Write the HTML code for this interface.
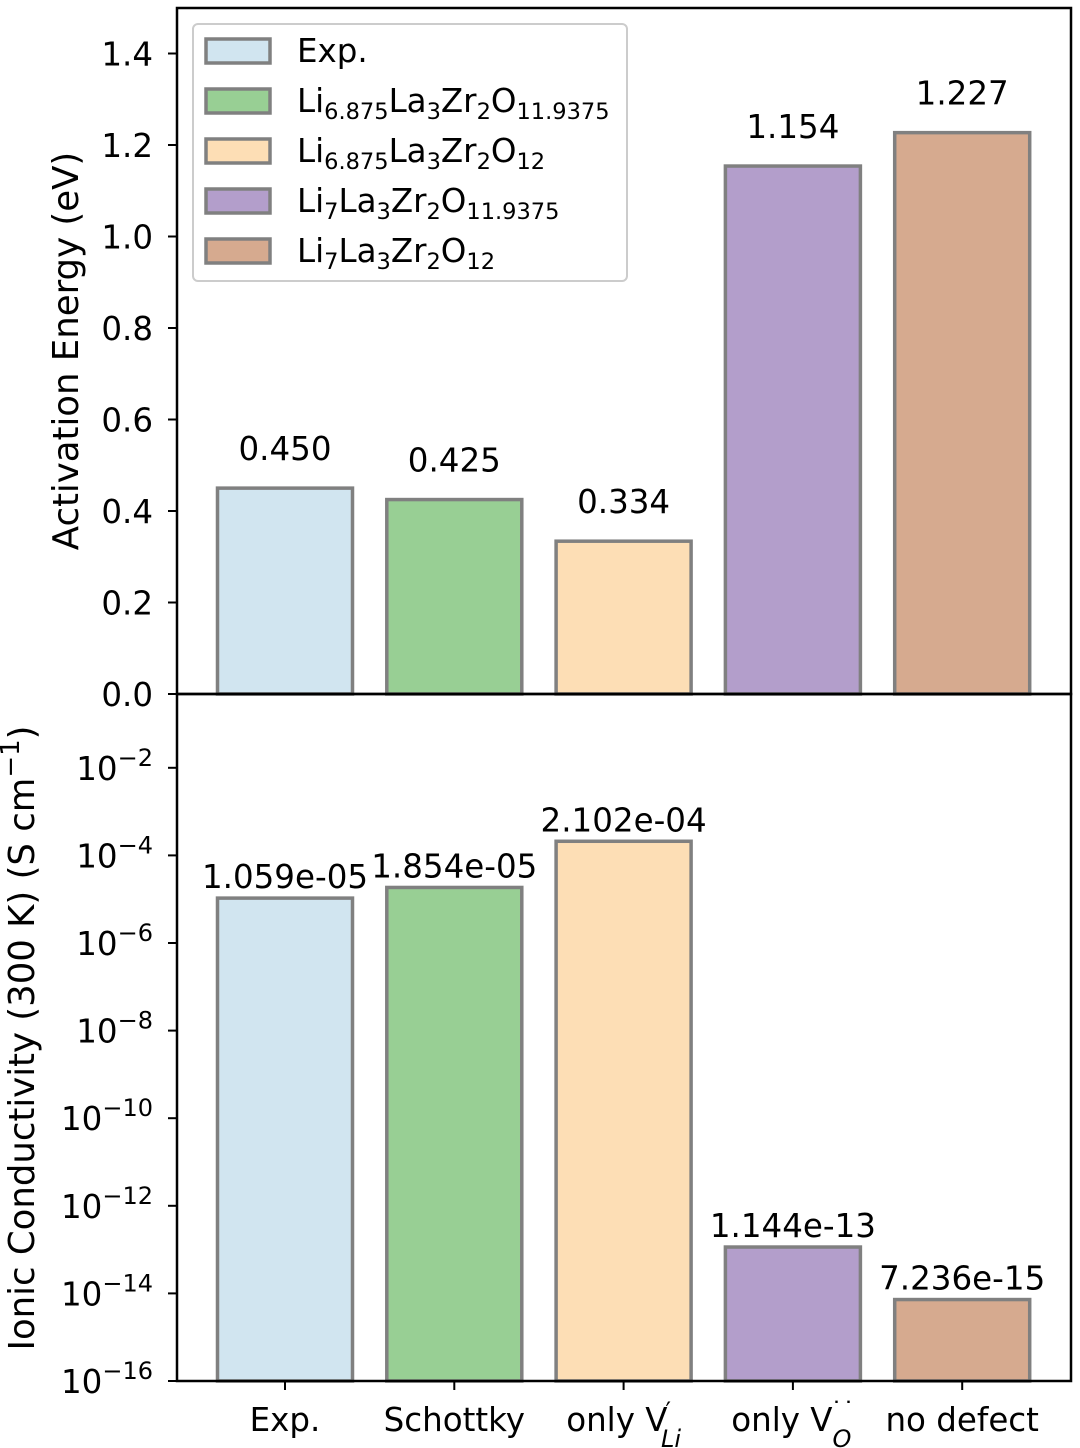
<!DOCTYPE html>
<html><head><meta charset="utf-8"><style>
body{margin:0;background:#fff}
svg{display:block;font-family:"DejaVu Sans","Liberation Sans",sans-serif}
</style></head><body>
<svg id="chart" width="1080" height="1448" viewBox="0 0 1080 1448" xmlns="http://www.w3.org/2000/svg"></svg>
<script>
const categories = ["Exp.", "Schottky", "only V'Li", "only V..O", "no defect"];
const activationEnergy = [0.450, 0.425, 0.334, 1.154, 1.227];
const conductivity = [1.059e-05, 1.854e-05, 2.102e-04, 1.144e-13, 7.236e-15];
const conductivityLabels = ["1.059e-05", "1.854e-05", "2.102e-04", "1.144e-13", "7.236e-15"];
const energyTicks = [0.0, 0.2, 0.4, 0.6, 0.8, 1.0, 1.2, 1.4];
const logTicks = [-16, -14, -12, -10, -8, -6, -4, -2];
const colors = ["#d1e5f0", "#98cf94", "#fddeb5", "#b39ecb", "#d6aa8f"];
const SS = "<tspan font-size='22.5' dy='7'>";
const UP = "</tspan><tspan dy='-7'>";
const legendLabels = [
  "Exp.",
  "Li" + SS + "6.875" + UP + "La" + SS + "3" + UP + "Zr" + SS + "2" + UP + "O" + SS + "11.9375</tspan>",
  "Li" + SS + "6.875" + UP + "La" + SS + "3" + UP + "Zr" + SS + "2" + UP + "O" + SS + "12</tspan>",
  "Li" + SS + "7" + UP + "La" + SS + "3" + UP + "Zr" + SS + "2" + UP + "O" + SS + "11.9375</tspan>",
  "Li" + SS + "7" + UP + "La" + SS + "3" + UP + "Zr" + SS + "2" + UP + "O" + SS + "12</tspan>"
];

const NS = "http://www.w3.org/2000/svg";
const svg = document.getElementById("chart");
const L = 177, R = 1071, T1 = 8, B1 = 694, B2 = 1381;
const xC = i => L + 108 + i * 169.3;
const bw = 135;
const yE = v => 694 - v * 457.5;
const yL = e => 1381 - (e + 16) * 43.8;
const FS = 32.5;

function mk(tag, attrs, parent) {
  const el = document.createElementNS(NS, tag);
  for (const k in attrs) el.setAttribute(k, attrs[k]);
  (parent || svg).appendChild(el);
  return el;
}

categories.forEach((c, i) => {
  const y = yE(activationEnergy[i]);
  const r = mk("rect", {x: xC(i) - bw/2, y: y, width: bw, height: B1 - y, fill: colors[i], stroke: "#808080", "stroke-width": 3.5});
  
  
  const t = mk("text", {x: xC(i), y: y - 28, "text-anchor": "middle", "font-size": FS});
  t.textContent = activationEnergy[i].toFixed(3);
  
  
});
categories.forEach((c, i) => {
  const y = yL(Math.log10(conductivity[i]));
  const r = mk("rect", {x: xC(i) - bw/2, y: y, width: bw, height: B2 - y, fill: colors[i], stroke: "#808080", "stroke-width": 3.5});
  
  
  const t = mk("text", {x: xC(i), y: y - 10, "text-anchor": "middle", "font-size": FS});
  t.textContent = conductivityLabels[i];
  
  
});

const f1 = mk("rect", {x: L, y: T1, width: R - L, height: B1 - T1, fill: "none", stroke: "#000", "stroke-width": 2.5});


const f2 = mk("rect", {x: L, y: B1, width: R - L, height: B2 - B1, fill: "none", stroke: "#000", "stroke-width": 2.5});



energyTicks.forEach(v => {
  const y = yE(v);
  mk("line", {x1: L - 9, x2: L, y1: y, y2: y, stroke: "#000", "stroke-width": 2});
  const t = mk("text", {x: L - 24, y: y + 12, "text-anchor": "end", "font-size": FS});
  t.textContent = v.toFixed(1);
  
  
});
logTicks.forEach(e => {
  const y = yL(e);
  mk("line", {x1: L - 9, x2: L, y1: y, y2: y, stroke: "#000", "stroke-width": 2});
  const t = mk("text", {x: L - 24, y: y + 12, "text-anchor": "end", "font-size": FS});
  t.innerHTML = "10<tspan font-size='24' dy='-14'>\u2212" + Math.abs(e) + "</tspan>";
  
  
});
const xl = ["Exp.", "Schottky",
  "only V<tspan font-size='24' dx='-2' dy='-12'>\u2032</tspan><tspan font-style='italic' font-size='24' dx='-10' dy='28'>Li</tspan>",
  "only V<tspan font-size='24' dx='-2' dy='-12'>\u02D9\u02D9</tspan><tspan font-style='italic' font-size='24' dx='-22' dy='28'>O</tspan>",
  "no defect"];
categories.forEach((c, i) => {
  mk("line", {x1: xC(i), x2: xC(i), y1: B2, y2: B2 + 9, stroke: "#000", "stroke-width": 2});
  const t = mk("text", {x: xC(i), y: B2 + 50, "text-anchor": "middle", "font-size": FS});
  t.innerHTML = xl[i];
  
  
});

const yt1 = mk("text", {transform: "translate(78,351) rotate(-90)", "text-anchor": "middle", "font-size": 35.5});
yt1.textContent = "Activation Energy (eV)";


const yt2 = mk("text", {transform: "translate(34,1038) rotate(-90)", "text-anchor": "middle", "font-size": 35.5});
yt2.innerHTML = "Ionic Conductivity (300 K) (S cm<tspan font-size='26' dy='-15'>\u22121</tspan><tspan dy='15'>)</tspan>";



const lg = mk("g", {});


mk("rect", {x: 193, y: 24, width: 434, height: 257, rx: 5, fill: "#fff", "fill-opacity": 0.8, stroke: "#ccc", "stroke-width": 2}, lg);
legendLabels.forEach((lab, i) => {
  const y = 51 + i * 50;
  const r = mk("rect", {x: 206, y: y - 12, width: 64, height: 24, fill: colors[i], stroke: "#808080", "stroke-width": 3.5}, lg);
  
  
  const t = mk("text", {x: 297, y: y + 11, "font-size": FS}, lg);
  t.innerHTML = lab;
  
  
});
</script>
</body></html>
